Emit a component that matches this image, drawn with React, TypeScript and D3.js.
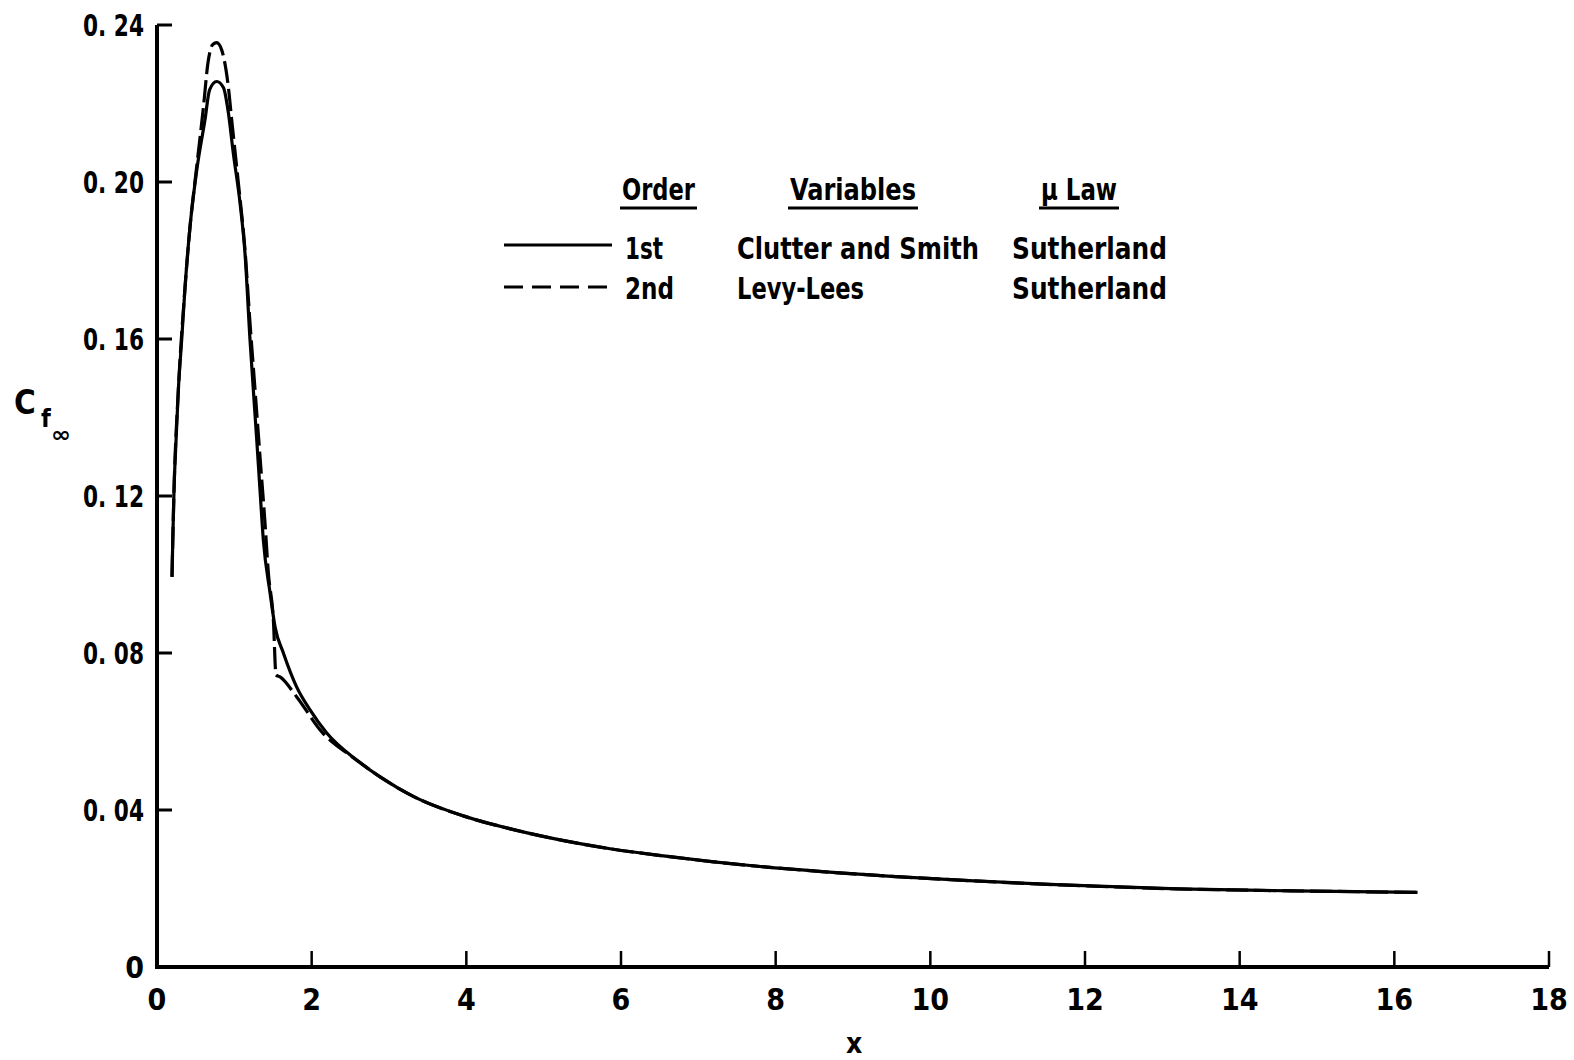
import React from "react";
import * as d3 from "d3";

// ---- data ----
const xTicks = [0, 2, 4, 6, 8, 10, 12, 14, 16, 18];
const yTicks = [0, 0.04, 0.08, 0.12, 0.16, 0.2, 0.24];
const yTickLabels = ["0", "0. 04", "0. 08", "0. 12", "0. 16", "0. 20", "0. 24"];

// 1st order, Clutter and Smith, Sutherland (solid)
const solidX = [0.194, 0.203, 0.22, 0.246, 0.276, 0.32, 0.362, 0.427, 0.514, 0.62, 0.68, 0.772, 0.86, 0.92, 0.987, 1.074, 1.138, 1.203, 1.246, 1.29, 1.332, 1.375, 1.462, 1.527, 1.634, 1.807, 1.979, 2.195, 2.583, 2.88, 3.32, 3.96, 4.61, 5.26, 5.9, 6.55, 7.2, 7.8, 8.6, 9.5, 10.5, 11.7, 13.2, 14.7, 16.3];
const solidY = [0.0994, 0.108, 0.1215, 0.134, 0.147, 0.16, 0.173, 0.1886, 0.203, 0.2158, 0.2235, 0.2256, 0.224, 0.218, 0.2073, 0.1946, 0.1818, 0.1597, 0.147, 0.1342, 0.1215, 0.1088, 0.0953, 0.0866, 0.08, 0.0713, 0.0655, 0.0596, 0.0527, 0.0485, 0.0434, 0.0385, 0.035, 0.0322, 0.03, 0.0283, 0.0268, 0.0256, 0.0243, 0.0231, 0.022, 0.0209, 0.0199, 0.0194, 0.019];

// 2nd order, Levy-Lees, Sutherland (dashed)
const dashX = [0.194, 0.22, 0.276, 0.362, 0.427, 0.514, 0.6, 0.66, 0.72, 0.772, 0.837, 0.922, 0.966, 1.048, 1.138, 1.203, 1.268, 1.332, 1.397, 1.44, 1.505, 1.539, 1.591, 1.807, 2.131, 2.454, 2.583, 2.88, 3.32, 3.96, 4.61, 5.26, 5.9, 6.55, 7.2, 7.8, 8.6, 9.5, 10.5, 11.7, 13.2, 14.7, 16.3];
const dashY = [0.0994, 0.1215, 0.147, 0.173, 0.1886, 0.204, 0.219, 0.2305, 0.235, 0.2355, 0.2336, 0.2243, 0.2158, 0.2005, 0.1827, 0.164, 0.147, 0.13, 0.113, 0.1004, 0.0884, 0.0744, 0.0739, 0.0688, 0.0599, 0.0545, 0.0527, 0.0485, 0.0434, 0.0385, 0.035, 0.0322, 0.03, 0.0283, 0.0268, 0.0256, 0.0243, 0.0231, 0.022, 0.0209, 0.0199, 0.0194, 0.019];

const legendHeaders = ["Order", "Variables", "\u03bc Law"];
const legendOrder = ["1st", "2nd"];
const legendVariables = ["Clutter and Smith", "Levy-Lees"];
const legendLaw = ["Sutherland", "Sutherland"];

const FONT = "'DejaVu Sans Condensed', 'DejaVu Sans', sans-serif";

export default function App() {
  const W = 1574, H = 1060;
  const x = d3.scaleLinear().domain([0, 18]).range([157, 1549]);
  const y = d3.scaleLinear().domain([0, 0.24]).range([967, 25]);
  const line = d3
    .line<[number, number]>()
    .x((d) => x(d[0]))
    .y((d) => y(d[1]))
    .curve(d3.curveMonotoneX);
  const solidPts = solidX.map((v, i) => [v, solidY[i]] as [number, number]);
  const dashPts = dashX.map((v, i) => [v, dashY[i]] as [number, number]);

  const txt = {
    fontFamily: FONT,
    fontWeight: 700 as const,
    fontStretch: "condensed",
    fill: "#000",
  };

  const headerX = [622, 790, 1041];
  const headerW = [73, 126, 76];
  const rowY = [259, 299];
  const lineY = [245, 287];

  return (
    <svg
      width={W}
      height={H}
      viewBox={`0 0 ${W} ${H}`}
      style={{ position: "absolute", left: 0, top: 0, background: "#fff" }}
    >
      <rect x={0} y={0} width={W} height={H} fill="#fff" />
      {/* axes */}
      <line x1={x(0)} y1={y(0.24)} x2={x(0)} y2={y(0) + 2} stroke="#000" strokeWidth={4} />
      <line x1={x(0) - 2} y1={y(0)} x2={x(18)} y2={y(0)} stroke="#000" strokeWidth={4} />
      {yTicks.map((t, i) => (
        <g key={"yt" + i}>
          {t > 0 && (
            <line x1={x(0)} x2={x(0) + 15} y1={y(t)} y2={y(t)} stroke="#000" strokeWidth={3} />
          )}
          <text
            x={144}
            y={y(t) + 11}
            textAnchor="end"
            fontSize={30}
            {...txt}
            textLength={t > 0 ? 61 : undefined}
            lengthAdjust="spacingAndGlyphs"
          >
            {yTickLabels[i]}
          </text>
        </g>
      ))}
      {xTicks.map((t, i) => (
        <g key={"xt" + i}>
          {t > 0 && (
            <line x1={x(t)} x2={x(t)} y1={y(0)} y2={y(0) - 16} stroke="#000" strokeWidth={2.5} />
          )}
          <text x={x(t)} y={1010} textAnchor="middle" fontSize={30} {...txt}>
            {t}
          </text>
        </g>
      ))}
      {/* axis titles */}
      <text x={854} y={1053} textAnchor="middle" fontSize={28} {...txt}>
        x
      </text>
      <text x={14} y={414} fontSize={33} {...txt}>
        C
      </text>
      <text x={41} y={427} fontSize={25} {...txt}>
        f
      </text>
      <text x={51} y={442} fontSize={22} {...txt} textLength={20} lengthAdjust="spacingAndGlyphs">
        {"\u221e"}
      </text>

      {/* curves */}
      <path d={line(solidPts) || ""} fill="none" stroke="#000" strokeWidth={3.2} strokeLinejoin="round" />
      <path
        d={line(dashPts) || ""}
        fill="none"
        stroke="#000"
        strokeWidth={3.2}
        strokeDasharray="22 6"
        strokeLinejoin="round"
      />

      {/* legend */}
      {legendHeaders.map((h, i) => (
        <g key={"h" + i}>
          <text x={headerX[i]} y={200} fontSize={30} {...txt} textLength={headerW[i]} lengthAdjust="spacingAndGlyphs">
            {h}
          </text>
          <line x1={headerX[i] - 2} x2={headerX[i] + headerW[i] + 2} y1={208} y2={208} stroke="#000" strokeWidth={3} />
        </g>
      ))}
      {legendOrder.map((o, i) => (
        <g key={"r" + i}>
          <line
            x1={504}
            x2={612}
            y1={lineY[i]}
            y2={lineY[i]}
            stroke="#000"
            strokeWidth={3}
            strokeDasharray={i === 1 ? "19 9" : undefined}
          />
          <text x={625} y={rowY[i]} fontSize={30} {...txt} textLength={i === 0 ? 38 : 49} lengthAdjust="spacingAndGlyphs">
            {o}
          </text>
          <text
            x={737}
            y={rowY[i]}
            fontSize={30}
            {...txt}
            textLength={i === 0 ? 242 : 127}
            lengthAdjust="spacingAndGlyphs"
          >
            {legendVariables[i]}
          </text>
          <text x={1012} y={rowY[i]} fontSize={30} {...txt} textLength={155} lengthAdjust="spacingAndGlyphs">
            {legendLaw[i]}
          </text>
        </g>
      ))}
    </svg>
  );
}
